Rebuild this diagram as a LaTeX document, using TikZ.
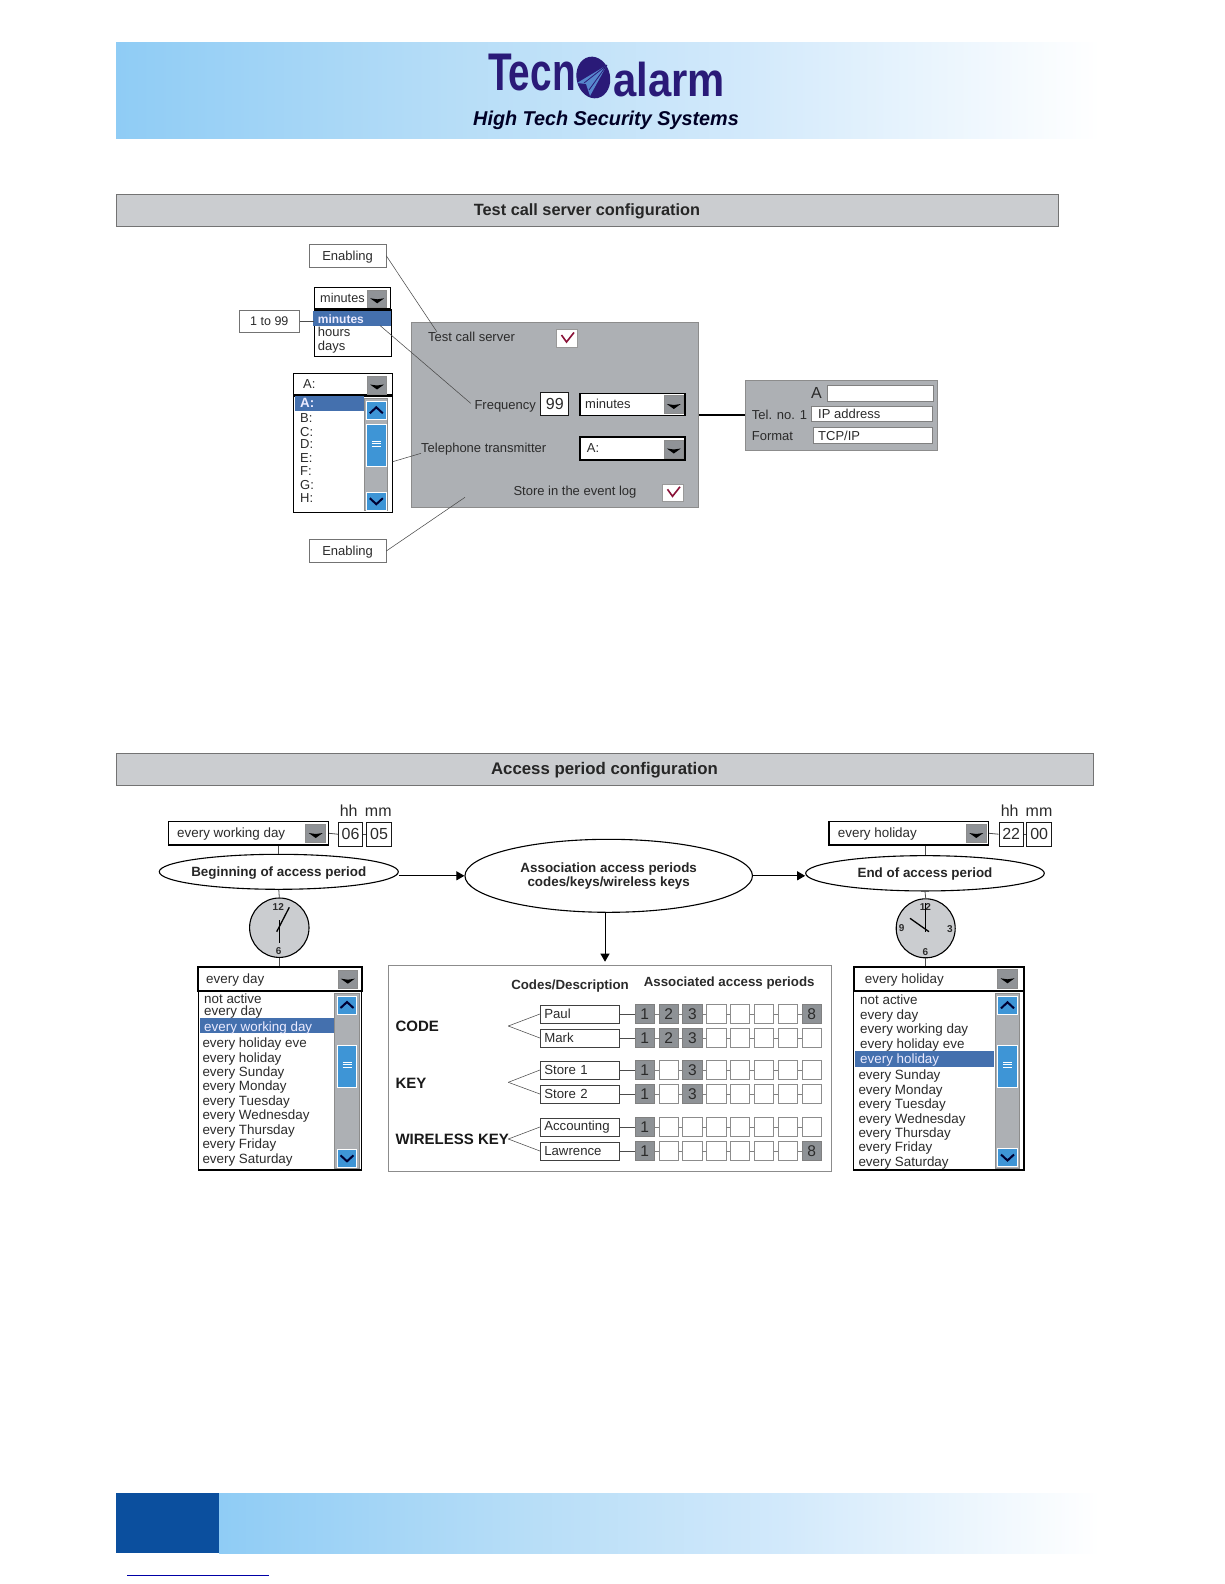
\documentclass[tikz,border=0pt]{standalone}
\usepackage{graphicx, xcolor, fontspec}
\usetikzlibrary{shapes.geometric, arrows.meta}
\setmainfont{Liberation Sans}

\definecolor{inktext}{HTML}{2B2B2B}
\definecolor{logoink}{HTML}{2A1A78}
\definecolor{bandA}{HTML}{8FCCF5}
\definecolor{bandB}{HTML}{B6DDF7}
\definecolor{bandC}{HTML}{D2E9FB}
\definecolor{footblue}{HTML}{0B4F9E}
\definecolor{titlegray}{HTML}{CBCDD0}
\definecolor{panelgray}{HTML}{ADB0B4}
\definecolor{btngray}{HTML}{909397}
\definecolor{rowblue}{HTML}{4470AE}
\definecolor{scrollblue}{HTML}{3E95D6}
\definecolor{cellgray}{HTML}{8E9296}
\definecolor{checkred}{HTML}{8A1238}

\pgfdeclarehorizontalshading{bandfade}{100bp}{color(0bp)=(bandA); color(25bp)=(bandA); color(42bp)=(bandB); color(57bp)=(bandC); color(75bp)=(white); color(100bp)=(white)}

\tikzset{
  wh/.style 2 args={minimum width=#1pt, minimum height=#2pt, inner sep=0pt},
  lbl/.style={font=\fontsize{13}{15}\selectfont, text=inktext, inner sep=0pt, anchor=west, text height=11.4pt, text depth=2.8pt},
  rowlbl/.style={lbl, font=\fontsize{13.4}{15}\selectfont},
  lblbold/.style={lbl, font=\fontsize{13.3}{15}\selectfont\bfseries, anchor=center},
  biglbl/.style={lbl, font=\fontsize{15}{17}\selectfont\bfseries, text=black!90, text height=12.8pt, text depth=3.2pt},
  whitelbl/.style={rowlbl, text=white!92!blue},
  digit/.style={font=\fontsize{16}{18}\selectfont, text=inktext, text height=11.5pt, text depth=0pt},
  clocknum/.style={font=\fontsize{10}{12}\selectfont\bfseries, text=inktext, inner sep=0pt},
  calloutbox/.style={draw=black!55, line width=.7pt, fill=white},
  combo/.style={draw=black, line width=1.5pt, fill=white},
  listbox/.style={draw=black, line width=1.2pt, fill=white},
  numbox/.style={draw=black!90, line width=1pt, fill=white, digit},
  fieldbox/.style={draw=black!50, line width=.7pt, fill=white},
  rowmark/.style={fill=rowblue},
  scrolltrack/.style={draw=black!45, line width=.5pt, fill=panelgray},
  dropbtn/.style={draw=black!45, line width=.6pt, fill=btngray,
    path picture={\fill[black, shift={(path picture bounding box.center)}] (-7,-.5) -- (0,.5) -- (7,-.5) -- (0,4.5) -- cycle;}},
  upbtn/.style={draw=white, line width=.8pt, fill=scrollblue,
    path picture={\draw[black!80!blue, line width=2pt, shift={(path picture bounding box.center)}] (-6.5,3) -- (0,-3) -- (6.5,3);}},
  downbtn/.style={draw=white, line width=.8pt, fill=scrollblue,
    path picture={\draw[black!80!blue, line width=2pt, shift={(path picture bounding box.center)}] (-6.5,-3) -- (0,3) -- (6.5,-3);}},
  thumbbtn/.style={draw=white, line width=.8pt, fill=scrollblue,
    path picture={\draw[white, line width=.9pt, shift={(path picture bounding box.center)}] (-4.5,-4) -- (4.5,-4) (-4.5,-1.5) -- (4.5,-1.5) (-4.5,1) -- (4.5,1);}},
  checkbox/.style={draw=black!40, line width=.7pt, fill=white,
    path picture={\draw[checkred, line width=1.6pt, shift={(path picture bounding box.center)}] (-5.5,-3.5) -- (-.5,3.5) -- (7,-6);}},
  titleband/.style={draw=black!55, line width=1pt, fill=titlegray, font=\fontsize{16.3}{18}\selectfont\bfseries, text=black!85, text height=13pt, text depth=3pt},
  oval/.style={ellipse, draw=black, line width=1.1pt, fill=white, font=\fontsize{13.4}{13.8}\selectfont\bfseries, text=black!85, align=center},
  ovalline/.style={text height=11pt, text depth=2pt, inner xsep=-15pt},
  clockface/.style={circle, draw=black, line width=1.1pt, fill=titlegray},
  hand/.style={black, line width=1.3pt},
  lead/.style={black!70, line width=.55pt},
  link/.style={black!70, line width=.8pt},
  flow/.style={black, line width=.9pt, -{Triangle[length=8pt,width=9pt]}},
  namebox/.style={draw=black!75, line width=.7pt, fill=white, wh={79}{17.7}, inner xsep=4pt, text width=71pt, align=left, font=\fontsize{13.2}{15}\selectfont, text=inktext},
  cellbox/.style={draw=black!45, line width=.8pt, fill=white, wh={19.3}{19.3}},
  cellfull/.style={cellbox, fill=cellgray, draw=black!50, digit, font=\fontsize{15.5}{18}\selectfont}
}

\begin{document}
\begin{tikzpicture}[x=1pt, y=-1pt]
  \useasboundingbox (0,0) rectangle (1224,1584);

  \shade[shading=bandfade] (116,43) rectangle (1100,139);
  \node[anchor=base west, inner sep=0pt, font=\fontsize{53}{53}\selectfont\bfseries, text=logoink] (LG1) at (488,91) {\scalebox{.73}[1]{Tecn}};
  \node[ellipse, fill=logoink, wh={33.5}{42}, rotate=12] (LGD) at (593.3,77.5) {};
  \fill[cyan!45!blue!70] (607,65) -- (577,83) -- (586,84) -- (590,96) -- cycle;
  \draw[logoink, line width=.8pt] (607,65) -- (584,83) (607,65) -- (589,90);
  \node[anchor=base west, inner sep=0pt, font=\fontsize{47.5}{48}\selectfont\bfseries, text=logoink] (LG2) at (613,96.7) {\scalebox{.88}[1]{alarm}};
  \node[font=\fontsize{20}{22}\selectfont\bfseries\itshape, text=black!85!blue, inner sep=0pt] (HT) at (606,120.5) {\scalebox{.99}[1]{High Tech Security Systems}};

  \node[titleband, wh={942}{32.5}] (T1) at (587,210.3) {Test call server configuration};

  \node[draw=black!45, line width=.8pt, fill=panelgray, wh={287.7}{185}] (PN) at (554.8,414.5) {};
  \node[lbl] (TS) at (428,337.3)   {Test call server};
  \node[checkbox, wh={20.6}{18.4}] (CK1) at (567,338.5) {};
  \node[lbl] (FQ) at (474.3,405)   {Frequency};
  \node[numbox, wh={28.3}{22.6}] (N99) at (554.8,404) {99};
  \node[combo, wh={105}{22}] (FC) at (632.5,404.3) {};
  \node[dropbtn, wh={19}{17.6}] (FB) at (673.8,404.5) {};
  \node[lbl] (FT) at (585,404)     {minutes};
  \node[lbl] (TT) at (421,448.3)   {Telephone transmitter};
  \node[combo, wh={105}{23}] (TC) at (632.5,448.5) {};
  \node[dropbtn, wh={19}{18}] (TB) at (673.8,449) {};
  \node[lbl] (TA) at (586.7,448.3) {A:};
  \node[lbl] (SE) at (513.3,490.7) {Store in the event log};
  \node[checkbox, wh={20.6}{17.7}] (CK2) at (673,492.8) {};

  \node[calloutbox, lbl, anchor=center, wh={76.7}{23}] (EN1) at (347.6,255.8) {Enabling\hspace{4.4pt}};
  \node[calloutbox, lbl, anchor=center, wh={76.7}{22.6}] (EN2) at (347.6,551) {Enabling\hspace{4.4pt}};
  \node[calloutbox, lbl, anchor=center, wh={60}{22}, font=\fontsize{12.5}{15}\selectfont] (R99) at (269.3,321.3) {1 to 99};

  \node[listbox, wh={76.6}{46.7}] (ML) at (353,333.3) {};
  \node[rowmark, wh={78}{15}] (MH) at (352.3,318.2) {};
  \node[whitelbl, font=\fontsize{12}{15}\selectfont\bfseries] (M1) at (317.7,319) {minutes};
  \node[lbl] (M2) at (317.7,332) {hours};
  \node[lbl] (M3) at (317.7,346) {days};
  \node[combo, wh={76}{21.3}] (MC) at (352.7,298.3) {};
  \node[dropbtn, wh={19}{17}] (MB) at (377.2,298.8) {};
  \node[lbl, font=\fontsize{12.7}{15}\selectfont] (MT) at (320,298) {minutes};

  \node[combo, line width=1.2pt, wh={99}{21.7}] (AC) at (342.8,384.2) {};
  \node[dropbtn, wh={19.4}{18}] (AB) at (377,385) {};
  \node[lbl] (AT) at (303,384) {A:};
  \node[listbox, wh={99}{116.7}] (AL) at (342.8,454.3) {};
  \node[rowmark, wh={69}{15}] (AH) at (329.5,403.5) {};
  \node[whitelbl, font=\fontsize{13.4}{15}\selectfont\bfseries] (AR1) at (300,403.3) {A:};
  \foreach \n/\yy/\tx in {2/417.7/B:, 3/431.7/C:, 4/444.3/D:, 5/457.7/E:, 6/471/F:, 7/485/G:, 8/497.7/H:}
    \node[lbl] (AR\n) at (300,\yy) {\tx};
  \node[scrolltrack, wh={22.6}{112}] (AS) at (376,454.3) {};
  \node[upbtn, wh={20.7}{17.3}] (AU) at (376.3,410.3) {};
  \node[thumbbtn, wh={20}{42.7}] (AO) at (376,445.3) {};
  \node[downbtn, wh={20.7}{17.7}] (AD) at (376.3,501.2) {};

  \node[draw=black!45, line width=.8pt, fill=panelgray, wh={192.3}{70}] (SP) at (841.2,415) {};
  \node[lbl, font=\fontsize{16}{18}\selectfont, anchor=center] (SA) at (816.4,394) {A};
  \node[fieldbox, wh={105.6}{16}] (FA) at (880.5,393.7) {};
  \node[lbl] (TN) at (751.7,415) {Tel. no. 1};
  \node[fieldbox, wh={120.6}{15}] (FI) at (872,414.2) {};
  \node[lbl] (IP) at (818,414.5) {IP address};
  \node[lbl] (FM) at (751.7,436) {Format};
  \node[fieldbox, wh={119}{16}] (FF) at (872.8,435.3) {};
  \node[lbl] (TP) at (818,436) {TCP/IP};

  \coordinate (TSE) at (437,332);
  \coordinate (MHE) at (380,325.5);
  \coordinate (FQE) at (470.7,403.3);
  \coordinate (TTE) at (421,453.3);
  \coordinate (ALE) at (392.7,461.7);
  \coordinate (PNE) at (465,497.3);
  \draw[lead] (EN1.east) -- (TSE);
  \draw[lead] (MHE) -- (FQE);
  \draw[lead] (ALE) -- (TTE);
  \draw[lead] (EN2.east) -- (PNE);
  \draw[link] (R99.east) -- (R99 -| ML.west);
  \draw[black, line width=1.2pt] (PN.east |- SP.west) -- (SP.west);

  \node[titleband, wh={977}{32.3}, font=\fontsize{16.8}{18}\selectfont\bfseries] (T2) at (604.5,769.6) {Access period configuration};

  \node[lbl, digit, anchor=center] (H1) at (348.7,811) {hh};
  \node[lbl, digit, anchor=center] (M5) at (378.3,811) {mm};
  \node[combo, wh={160}{23.3}] (BC) at (248.3,833.3) {};
  \node[dropbtn, wh={20}{18.4}] (BB) at (315.7,833.5) {};
  \node[rowlbl] (BT) at (177,833) {every working day};
  \node[numbox, wh={24.4}{23.7}] (B06) at (350.5,834.2) {06};
  \node[numbox, wh={24.6}{23.7}] (B05) at (379,834.2) {05};
  \node[oval, wh={239}{35}, ovalline] (BE) at (278.8,871.8) {Beginning of access period};
  \node[clockface, wh={59.4}{59.4}] (BK) at (279.3,927.7) {};
  \node[clocknum] (BK1) at (278.3,906.7) {12};
  \node[clocknum] (BK2) at (278.7,951.3) {6};
  \draw[hand] (276.7,931.7) -- (289.3,907.3);
  \draw[hand] (279.3,920) -- (279.3,942.7);

  \node[oval, wh={287.5}{73}] (AE) at (608.7,875.8) {Association access periods\\codes/keys/wireless keys};
  \coordinate (AX) at (605,961.7);

  \node[lbl, digit, anchor=center] (H2) at (1009.7,811) {hh};
  \node[lbl, digit, anchor=center] (M6) at (1039,811) {mm};
  \node[combo, wh={159.3}{23.3}] (EC) at (908.7,833.3) {};
  \node[dropbtn, wh={19.3}{18.4}] (EB) at (976.3,833.5) {};
  \node[rowlbl] (ET) at (837.7,833) {every holiday};
  \node[numbox, wh={24.4}{23.7}] (E22) at (1011.2,834.2) {22};
  \node[numbox, wh={25}{23.7}] (E00) at (1039.2,834.2) {00};
  \node[oval, wh={238.6}{35.3}, ovalline] (EE) at (925,873.3) {End of access period};
  \node[clockface, wh={59}{59}] (EK) at (925.7,928.3) {};
  \node[clocknum] (EK1) at (925.3,906.7) {12};
  \node[clocknum] (EK2) at (950,928.7) {3};
  \node[clocknum] (EK3) at (925.3,951.7) {6};
  \node[clocknum] (EK4) at (901.7,928.3) {9};
  \draw[hand] (925.7,903.3) -- (925.7,931.7);
  \draw[hand] (910,918.3) -- (929,931.7);

  \node[listbox, wh={163.4}{178.3}] (LL) at (280,1080.8) {};
  \node[rowmark, wh={134.3}{15}] (LH) at (267.2,1025.8) {};
  \foreach \n/\xx/\yy/\tx in {1/204/999/not active, 2/204/1011/every day, 4/202.3/1043.3/every holiday eve, 5/202.3/1057.7/every holiday, 6/202.3/1072/every Sunday, 7/202.3/1086.3/every Monday, 8/202.3/1100.7/every Tuesday, 9/202.3/1115/every Wednesday, 10/202.3/1130/every Thursday, 11/202.3/1144/every Friday, 12/202.3/1158.7/every Saturday}
    \node[rowlbl] (LR\n) at (\xx,\yy) {\tx};
  \node[whitelbl] (LR3) at (204,1026.7) {every working day};
  \node[scrolltrack, wh={25}{175}] (LS) at (346.8,1080.8) {};
  \node[upbtn, wh={19.4}{18}] (LU) at (347,1005) {};
  \node[thumbbtn, wh={19.4}{42.7}] (LO) at (347,1066.3) {};
  \node[downbtn, wh={19.4}{18}] (LD) at (347,1158.3) {};
  \node[combo, line width=1.8pt, wh={163.4}{23.7}] (LC) at (280,979.2) {};
  \node[dropbtn, wh={19}{18.3}] (LB) at (347.8,979.2) {};
  \node[rowlbl] (LT) at (206,979) {every day};

  \node[listbox, wh={170.7}{178.3}] (RL) at (938.7,1080.8) {};
  \node[rowmark, wh={139.3}{15.7}] (RH) at (924.7,1058.8) {};
  \foreach \n/\xx/\yy/\tx in {1/860/1000.3/not active, 2/860/1015/every day, 3/860/1029.3/every working day, 4/860/1044/every holiday eve, 6/858.3/1075/every Sunday, 7/858.3/1089.7/every Monday, 8/858.3/1104/every Tuesday, 9/858.3/1118.7/every Wednesday, 10/858.3/1133/every Thursday, 11/858.3/1147.3/every Friday, 12/858.3/1162/every Saturday}
    \node[rowlbl] (RR\n) at (\xx,\yy) {\tx};
  \node[whitelbl] (RR5) at (860,1059) {every holiday};
  \node[scrolltrack, wh={23.6}{175}] (RS) at (1007.5,1080.8) {};
  \node[upbtn, wh={19.6}{17.3}] (RU) at (1007.5,1005.3) {};
  \node[thumbbtn, wh={19.6}{42.7}] (RO) at (1007.5,1066.3) {};
  \node[downbtn, wh={19.6}{18.3}] (RD) at (1007.5,1157.5) {};
  \node[combo, line width=1.8pt, wh={170}{24.3}] (RC) at (939,978.9) {};
  \node[dropbtn, wh={19.6}{19}] (RB) at (1007.5,978.8) {};
  \node[rowlbl] (RT) at (864.7,979) {every holiday};

  \draw[link] (BC.east) -- (B06.west);
  \draw[link] (B06.east) -- (B05.west);
  \draw[link] (EC.east) -- (E22.west);
  \draw[link] (E22.east) -- (E00.west);
  \draw[link] (BE.north |- BC.south) -- (BE.north);
  \draw[link] (BE.south) -- (BK.north);
  \draw[link] (BK.south) -- (BK.south |- LC.north);
  \draw[link] (EE.north |- EC.south) -- (EE.north);
  \draw[link] (EE.south) -- (EK.north);
  \draw[link] (EK.south) -- (EK.south |- RC.north);
  \draw[flow] (BE.east |- AE.west) -- (AE.west);
  \draw[flow] (AE.east) -- (EE.west |- AE.east);
  \draw[flow] (AX |- AE.south) -- (AX);

  \node[draw=black!45, line width=.8pt, fill=white, wh={443.4}{206.7}] (PB) at (610,1068.3) {};
  \node[lblbold] (CD) at (570,984.7)   {Codes/Description};
  \node[lblbold] (AP) at (729.2,982.3) {Associated access periods};
  \node[biglbl] (GC) at (395.3,1026.7) {CODE};
  \node[biglbl] (GK) at (395.3,1083.3) {KEY};
  \node[biglbl] (GW) at (395.3,1140)   {WIRELESS KEY};
  \coordinate (FK1) at (508.3,1026);
  \coordinate (FK2) at (508.3,1082.3);
  \coordinate (FK3) at (508.3,1139);
  \foreach \r/\ry/\fk/\nm in {1/1014/FK1/Paul, 2/1038/FK1/Mark, 3/1070/FK2/Store 1, 4/1094/FK2/Store 2, 5/1127/FK3/Accounting, 6/1151/FK3/Lawrence} {
    \node[namebox] (NM\r) at (579.8,\ry) {\nm};
    \draw[lead] (\fk) -- (NM\r.west);
    \foreach \c in {1,...,8}
      \node[cellbox] (PR\r\c) at ({644.7+23.86*(\c-1)},\ry) {};
    \draw[link] (NM\r.east) -- (PR\r1.west);
    \foreach \c [remember=\c as \b (initially 1)] in {2,...,8}
      \draw[black!50, line width=.7pt] (PR\r\b.east) -- (PR\r\c.west);
  }
  \foreach \r/\c in {1/1,1/2,1/3,1/8,2/1,2/2,2/3,3/1,3/3,4/1,4/3,5/1,6/1,6/8}
    \node[cellfull] (PF\r\c) at (PR\r\c) {\c};

  \shade[shading=bandfade] (219,1493) rectangle (1100,1553);
  \node[fill=footblue, wh={103}{60}] (BF) at (167.5,1523) {};
  \draw[blue!65!black, line width=1pt] (127,1575.3) -- (269,1575.3);
\end{tikzpicture}
\end{document}
